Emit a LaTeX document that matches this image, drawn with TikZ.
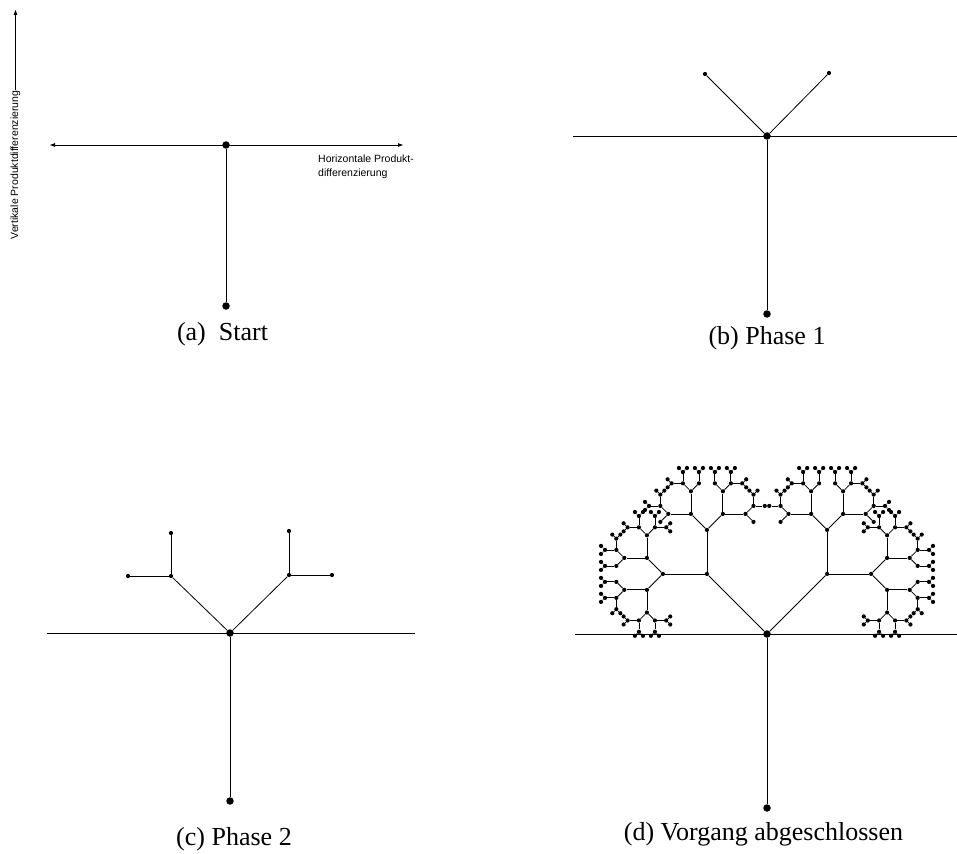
\documentclass[tikz,border=0pt]{standalone}
\usepackage{fontspec}
\setmainfont{Liberation Serif}
\setsansfont{Liberation Sans}
\usetikzlibrary{arrows.meta,positioning}

\tikzset{
  hub/.style={circle, fill=black, inner sep=0pt, minimum size=7.5pt},
  twig/.style={circle, fill=black, inner sep=0pt, minimum size=4.2pt},
  branch/.style={line width=0.8pt},
  axislabel/.style={font=\sffamily\fontsize{10.5}{14}\selectfont, inner sep=0pt},
  panelcap/.style={font=\fontsize{26}{30}\selectfont, inner sep=0pt, anchor=base},
  tip/.style={line width=0.8pt, arrows={-Triangle[length=5pt,width=3.5pt]}}
}

% twigs that are left out, and twigs that end as a bare dot
\newcommand{\skipat}[1]{\expandafter\def\csname skip@#1\endcsname{}}
\newcommand{\stopat}[1]{\expandafter\def\csname stop@#1\endcsname{}}
\skipat{rootDlllrrr}\skipat{rootDllrlll}\skipat{rootDlrlrrr}\skipat{rootDlrrlll}
\skipat{rootDrllrrr}\skipat{rootDrlrlll}\skipat{rootDrrlrrr}\skipat{rootDrrrlll}
\stopat{rootDlrlll}\stopat{rootDlrrrr}\stopat{rootDlrrrlr}
\stopat{rootDrllll}\stopat{rootDrlrrr}\stopat{rootDrlllrl}

% one fork per call: two twigs at +-45 degrees, then recurse
\newcommand{\sprout}[3]{%
  \begingroup
  \pgfmathtruncatemacro{\curlvl}{#3}%
  \ifnum\curlvl<8 \ifcsname stop@#1\endcsname\else
    \pgfmathtruncatemacro{\curdir}{#2}%
    \pgfmathsetmacro{\twiglen}{{85,44,22.6,22.6,11.3,11.3,5.7}[\curlvl-1]}%
    \pgfmathtruncatemacro{\leftdir}{\curdir+45}%
    \pgfmathtruncatemacro{\rightdir}{\curdir-45}%
    \pgfmathtruncatemacro{\nextlvl}{\curlvl+1}%
    \ifcsname skip@#1l\endcsname\else
      \path (#1) ++(\leftdir:\twiglen) node[twig] (#1l) {};
      \draw[branch] (#1) -- (#1l);
    \fi
    \ifcsname skip@#1r\endcsname\else
      \path (#1) ++(\rightdir:\twiglen) node[twig] (#1r) {};
      \draw[branch] (#1) -- (#1r);
    \fi
    \ifcsname skip@#1l\endcsname\else \sprout{#1l}{\leftdir}{\nextlvl}\fi
    \ifcsname skip@#1r\endcsname\else \sprout{#1r}{\rightdir}{\nextlvl}\fi
  \fi\fi
  \endgroup}

\begin{document}
\begin{tikzpicture}[x=1pt, y=1pt]
    \useasboundingbox (0,0) rectangle (957,-853);

    % (a) Start
    \node [hub] (rootA) at (226,-145) {};
    \node [hub] (footA) at (226,-306) {};
    \coordinate (westA) at (50,-145);
    \coordinate (eastA) at (403,-145);
    \draw [branch, {Triangle[length=5pt,width=3.5pt]}-{Triangle[length=5pt,width=3.5pt]}] (westA) -- (eastA);
    \draw [branch] (rootA) -- (footA);
    \node [axislabel, rotate=90] (vlabel) at (15.5,-165) {Vertikale Produktdifferenzierung};
    \coordinate (vtop) at (15.5,-10);
    \draw [tip] (vlabel.east) -- (vtop);
    \node [axislabel, align=left, anchor=north west] (hlabel) at (318,-155) {Horizontale Produkt-\\differenzierung};
    \node [panelcap] (capA) at (222.5,-340) {(a)\ \ Start};

    % (b) Phase 1
    \node [hub] (rootB) at (767,-136) {};
    \node [hub] (footB) at (767,-314) {};
    \coordinate (westB) at (573,-136);
    \coordinate (eastB) at (957,-136);
    \draw [branch] (westB) -- (eastB);
    \draw [branch] (rootB) -- (footB);
    \node [twig] (bl) at (705,-74) {};
    \node [twig] (br) at (829,-73) {};
    \draw [branch] (bl) -- (rootB) -- (br);
    \node [panelcap] (capB) at (767,-344) {(b) Phase 1};

    % (c) Phase 2
    \node [hub] (rootC) at (230,-633) {};
    \node [hub] (footC) at (230,-801) {};
    \coordinate (westC) at (47,-633);
    \coordinate (eastC) at (415,-633);
    \draw [branch] (westC) -- (eastC);
    \draw [branch] (rootC) -- (footC);
    \node [twig] (cl) at (171,-576) {};
    \node [twig] (cr) at (289,-575) {};
    \node [twig] (cll) at (128,-576) {};
    \node [twig] (clr) at (171,-533) {};
    \node [twig] (crl) at (289,-531) {};
    \node [twig] (crr) at (332,-575) {};
    \draw [branch] (cl) -- (rootC) -- (cr);
    \draw [branch] (cll) -- (cl) -- (clr);
    \draw [branch] (crl) -- (cr) -- (crr);
    \node [panelcap] (capC) at (234,-845) {(c) Phase 2};

    % (d) Vorgang abgeschlossen
    \node [hub] (rootD) at (767,-634) {};
    \node [hub] (footD) at (767,-808) {};
    \coordinate (westD) at (575,-634);
    \coordinate (eastD) at (957,-634);
    \draw [branch] (westD) -- (eastD);
    \draw [branch] (rootD) -- (footD);
    \sprout{rootD}{90}{1}
    \node [panelcap] (capD) at (763.5,-840) {(d) Vorgang abgeschlossen};
\end{tikzpicture}
\end{document}
